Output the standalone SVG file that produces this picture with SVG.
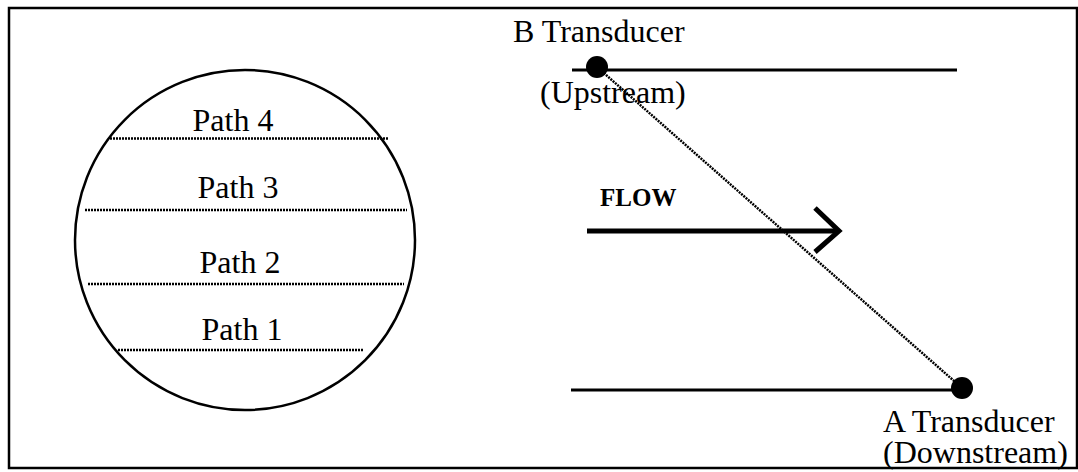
<svg xmlns="http://www.w3.org/2000/svg" width="1078" height="472" viewBox="0 0 1078 472">
<style>
text{font-family:"Liberation Serif","Times New Roman",serif;font-size:32px;fill:#000}
.bold{font-weight:bold;font-size:25px}
.dot{stroke:#000;stroke-width:2.5;stroke-dasharray:2 1;fill:none}
.solid{stroke:#000;stroke-width:3;fill:none}
</style>
<rect x="9" y="8" width="1068" height="460" fill="#fff" stroke="#000" stroke-width="2.5"/>
<g id="pipe-section">
<circle cx="245" cy="240" r="170" fill="none" stroke="#000" stroke-width="2.5"/>
</g>
<g id="path4"><line class="dot" x1="110" y1="138.5" x2="388" y2="138.5"/><text x="233" y="131" text-anchor="middle">Path 4</text></g>
<g id="path3"><line class="dot" x1="85" y1="210" x2="407" y2="210"/><text x="238" y="198" text-anchor="middle">Path 3</text></g>
<g id="path2"><line class="dot" x1="88" y1="284" x2="404" y2="284"/><text x="240" y="273" text-anchor="middle">Path 2</text></g>
<g id="path1"><line class="dot" x1="118" y1="350" x2="364" y2="350"/><text x="242" y="340" text-anchor="middle">Path 1</text></g>
<g id="connectors">
<line class="solid" x1="572" y1="70" x2="957" y2="70"/>
<line class="solid" x1="571" y1="390" x2="962" y2="390"/>
<line class="dot" x1="597" y1="67" x2="962" y2="388"/>
<line x1="587" y1="231" x2="838" y2="231" stroke="#000" stroke-width="5"/>
<polyline points="815,208 839,231 815,252" fill="none" stroke="#000" stroke-width="5"/>
</g>
<g id="b-transducer">
<circle cx="597" cy="67" r="11" fill="#000"/>
<text x="513" y="42">B Transducer</text>
<text x="540" y="103">(Upstream)</text>
</g>
<g id="flow"><text class="bold" x="600" y="206">FLOW</text></g>
<g id="a-transducer">
<circle cx="962" cy="388" r="11" fill="#000"/>
<text x="883" y="432" font-size="31">A Transducer</text>
<text x="883" y="463" font-size="31">(Downstream)</text>
</g>
</svg>
